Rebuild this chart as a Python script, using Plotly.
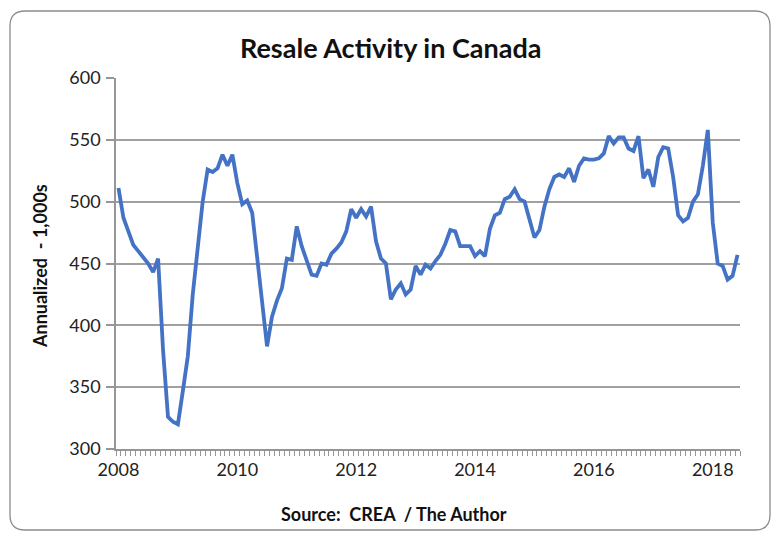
import plotly.graph_objects as go

# Monthly resale activity (annualized, thousands), Jan 2008 .. Jun 2018
months = list(range(126))
values = [
    511, 487, 476, 465, 460, 455, 450, 443, 454, 380,
    326, 322, 320, 347, 375, 425, 466, 500, 526, 524,
    527, 538, 529, 538, 515, 498, 501, 491, 455, 418,
    383, 407, 420, 430, 454, 453, 480, 464, 452, 441,
    440, 450, 449, 458, 462, 467, 476, 494, 487, 494,
    488, 496, 468, 454, 450, 421, 429, 434, 425, 429,
    448, 441, 449, 446, 452, 457, 466, 477, 476, 464,
    464, 464, 456, 460, 456, 478, 489, 491, 502, 504,
    510, 502, 500, 485, 471, 477, 496, 510, 520, 522,
    520, 527, 516, 529, 535, 534, 534, 535, 539, 553,
    547, 552, 552, 543, 541, 553, 519, 526, 512, 536,
    544, 543, 520, 489, 484, 487, 500, 506, 529, 558,
    483, 450, 448, 437, 440, 457,
]
tick_positions = [0, 24, 48, 72, 96, 120]
tick_labels = ["2008", "2010", "2012", "2014", "2016", "2018"]
y_ticks = [300, 350, 400, 450, 500, 550, 600]

W, H = 773, 534
L, R, T, B = 116, 740, 78, 449  # plot area in pixels

def px(x):
    return (x - L) / (R - L)

def py(y):
    return (B - y) / (B - T)

fig = go.Figure()
fig.add_trace(go.Scatter(
    x=months, y=values, mode="lines",
    line=dict(color="#4472C4", width=3.8),
    hoverinfo="skip", showlegend=False,
))

font_family = "Lato, 'Open Sans', sans-serif"

fig.update_layout(
    width=W, height=H,
    margin=dict(l=L, r=W - R, t=T, b=H - B),
    paper_bgcolor="white", plot_bgcolor="white",
    font=dict(family=font_family, color="#222222", size=18),
    xaxis=dict(
        range=[-0.5, 125.5],
        tickvals=tick_positions, ticktext=tick_labels,
        ticks="", showgrid=False, zeroline=False,
        showline=True, linecolor="#969696", linewidth=1.5,
        tickfont=dict(size=18, color="#222222"),
        minor=dict(tick0=-0.5, dtick=1, ticks="outside", ticklen=5,
                   tickcolor="#969696", tickwidth=1, showgrid=False),
        ticklabelstandoff=4,
    ),
    yaxis=dict(
        range=[300, 600], tickvals=y_ticks,
        ticks="outside", ticklen=8, tickcolor="#969696", tickwidth=1.5,
        showgrid=True, gridcolor="#a0a0a0", gridwidth=1.5,
        zeroline=False, showline=True, linecolor="#969696", linewidth=1.5,
        tickfont=dict(size=18, color="#222222"),
        ticklabelstandoff=2,
    ),
)

annotations = [
    dict(text="<b>Resale Activity in Canada</b>", x=px(390), y=py(47),
         xref="paper", yref="paper", showarrow=False,
         font=dict(size=27, color="#111111", family=font_family),
         xanchor="center", yanchor="middle"),
    dict(text="<b>Annualized  - 1,000s</b>", x=px(40), y=py(266),
         xref="paper", yref="paper", showarrow=False, textangle=-90,
         font=dict(size=18, color="#111111", family=font_family),
         xanchor="center", yanchor="middle"),
    dict(text="<b>Source:  CREA  / The Author</b>", x=px(394), y=py(514),
         xref="paper", yref="paper", showarrow=False,
         font=dict(size=18, color="#111111", family=font_family),
         xanchor="center", yanchor="middle"),
]
fig.update_layout(annotations=annotations)

# Rounded outer border (chart frame)
x0, x1, y0, y1, r = 10, 770, 11, 530, 15
path = (
    f"M {px(x0 + r)},{py(y0)} L {px(x1 - r)},{py(y0)} "
    f"Q {px(x1)},{py(y0)} {px(x1)},{py(y0 + r)} "
    f"L {px(x1)},{py(y1 - r)} Q {px(x1)},{py(y1)} {px(x1 - r)},{py(y1)} "
    f"L {px(x0 + r)},{py(y1)} Q {px(x0)},{py(y1)} {px(x0)},{py(y1 - r)} "
    f"L {px(x0)},{py(y0 + r)} Q {px(x0)},{py(y0)} {px(x0 + r)},{py(y0)} Z"
)
fig.add_shape(type="path", path=path, xref="paper", yref="paper",
              line=dict(color="#8c8c8c", width=1.3), layer="below")

fig.write_html(
    "out.html",
    config={"displayModeBar": False},
    post_script="document.body.style.margin='0';document.body.style.overflow='hidden';",
)
